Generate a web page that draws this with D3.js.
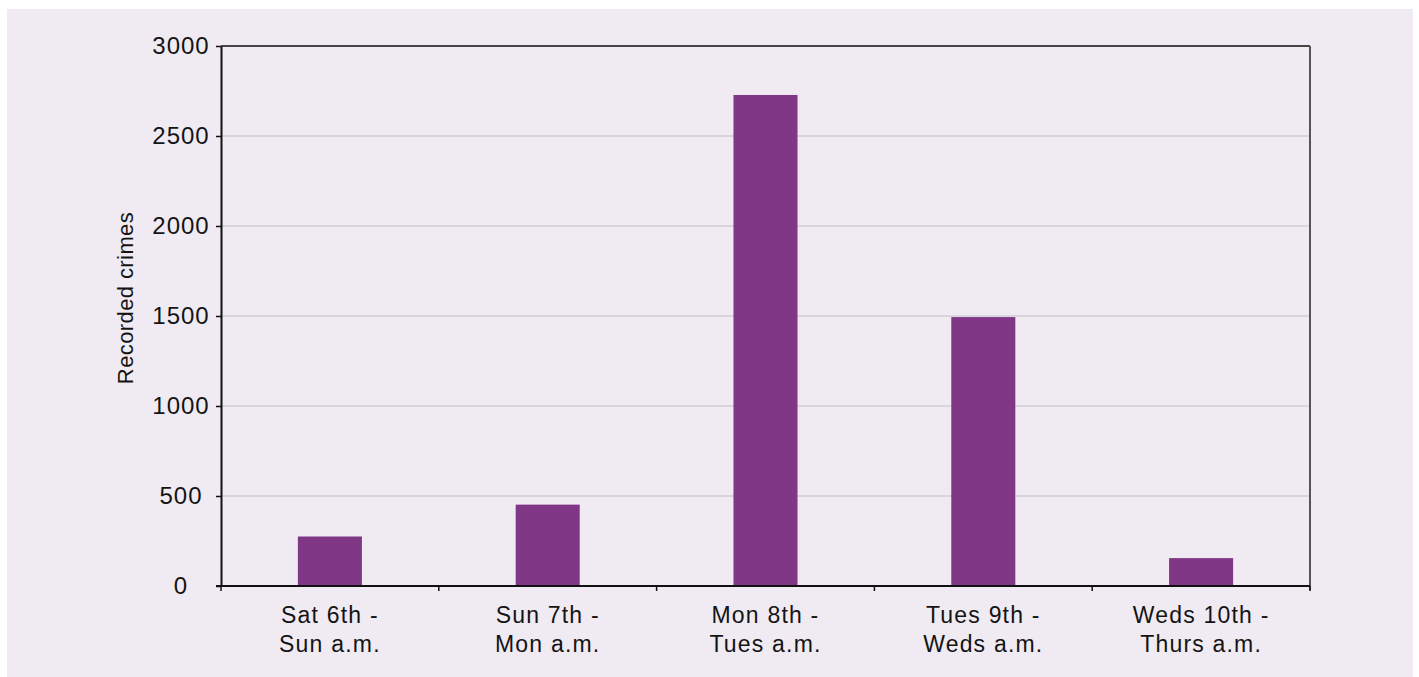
<!DOCTYPE html>
<html><head><meta charset="utf-8">
<script src="https://cdn.jsdelivr.net/npm/d3@7"></script>
<style>
html,body{margin:0;padding:0;background:#fff;}
svg{display:block;}
text{font-family:"Liberation Sans",Arial,sans-serif;fill:#141414;}
</style></head>
<body>
<svg id="chart" width="1419" height="677"></svg>
<script>
const categories = [["Sat 6th -","Sun a.m."],["Sun 7th -","Mon a.m."],["Mon 8th -","Tues a.m."],["Tues 9th -","Weds a.m."],["Weds 10th -","Thurs a.m."]];
const values = [275, 452, 2728, 1494, 155];
const yTicks = [0, 500, 1000, 1500, 2000, 2500, 3000];
const yLabel = "Recorded crimes";

const svg = d3.select("#chart");
svg.append("rect").attr("x",7).attr("y",9).attr("width",1406).attr("height",668).attr("fill","#f0eaf2");

const L=221, R=1310, T=46, B=586;
const x = d3.scaleBand().domain(d3.range(categories.length)).range([L,R]).paddingInner(0.706).paddingOuter(0.353);
const y = d3.scaleLinear().domain([0,3000]).range([B,T]);

// gridlines
svg.append("g").selectAll("line").data(yTicks.filter(d=>d>0 && d<3000)).join("line")
  .attr("x1",L).attr("x2",R).attr("y1",d=>y(d)).attr("y2",d=>y(d))
  .attr("stroke","#d2ced4").attr("stroke-width",1.5);

// bars
svg.append("g").selectAll("rect").data(values).join("rect")
  .attr("x",(d,i)=>x(i)).attr("width",x.bandwidth())
  .attr("y",d=>y(d)).attr("height",d=>B-y(d)).attr("fill","#7f3786");

// top & right frame
svg.append("line").attr("x1",L).attr("x2",R).attr("y1",T).attr("y2",T).attr("stroke","#444").attr("stroke-width",2);
svg.append("line").attr("x1",R).attr("x2",R).attr("y1",T).attr("y2",B+4).attr("stroke","#555").attr("stroke-width",2);

// y axis
const yAxis = d3.axisLeft(y).tickValues(yTicks).tickSize(5).tickSizeOuter(0).tickFormat(d3.format("d"));
const gy = svg.append("g").attr("transform",`translate(${L},0)`).call(yAxis);
gy.select(".domain").attr("stroke","#111").attr("stroke-width",2);
gy.selectAll(".tick line").attr("stroke","#111").attr("stroke-width",1.5);
gy.selectAll(".tick text").attr("font-size",24).attr("text-anchor","middle").attr("x",-40).attr("fill","#141414")
  .style("font-family",'"Liberation Sans",Arial,sans-serif').style("letter-spacing","1px");

// x axis
const xb = d3.scaleLinear().domain([0,categories.length]).range([L,R]);
const gx = svg.append("g").attr("transform",`translate(0,${B})`);
gx.append("line").attr("x1",L-5).attr("x2",R).attr("stroke","#111").attr("stroke-width",2);
gx.selectAll(".xt").data(d3.range(categories.length+1)).join("line").attr("class","xt")
  .attr("x1",d=>xb(d)).attr("x2",d=>xb(d)).attr("y1",0).attr("y2",5).attr("stroke","#111").attr("stroke-width",1.5);
const lab = gx.selectAll(".xl").data(categories).join("text").attr("class","xl")
  .attr("text-anchor","middle").attr("font-size",23).style("letter-spacing","1.2px")
  .attr("transform",(d,i)=>`translate(${x(i)+x.bandwidth()/2},0)`);
lab.append("tspan").attr("x",0).attr("y",37).text(d=>d[0]);
lab.append("tspan").attr("x",0).attr("y",66).text(d=>d[1]);

// y label
svg.append("text").attr("transform",`translate(133,298) rotate(-90)`)
  .attr("text-anchor","middle").attr("font-size",22).style("letter-spacing","0.4px").text(yLabel);
</script>
</body></html>
